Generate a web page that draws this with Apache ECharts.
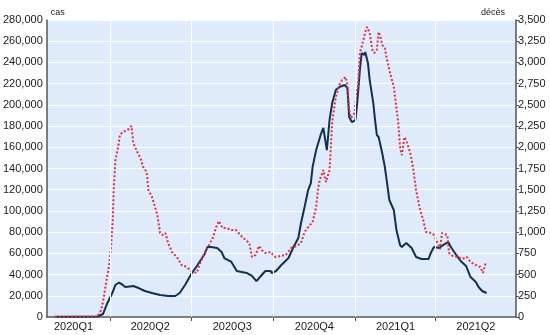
<!DOCTYPE html>
<html>
<head>
<meta charset="utf-8">
<script src="https://cdn.jsdelivr.net/npm/echarts@6/dist/echarts.min.js"></script>
<style>
  html, body { margin: 0; padding: 0; background: #ffffff; }
  #chart { width: 550px; height: 335px; }
</style>
</head>
<body>
<div id="chart"></div>
<script>
// Day index counted from 1 January 2020 (day 0).
const xMin = 20;
const xMax = 546;

// Quarter boundaries (1 Apr 2020, 1 Jul, 1 Oct, 1 Jan 2021, 1 Apr 2021)
const quarterStarts = [91, 182, 274, 366, 456];
// Quarter label positions and texts
const quarterLabelDays = [50, 136, 228, 320, 411, 501];
const quarterLabels = ['2020Q1', '2020Q2', '2020Q3', '2020Q4', '2021Q1', '2021Q2'];

// Left axis ticks (cas) and right axis ticks (décès)
const casTicks = [0, 20000, 40000, 60000, 80000, 100000, 120000, 140000, 160000, 180000, 200000, 220000, 240000, 260000, 280000];
const decesTicks = [0, 250, 500, 750, 1000, 1250, 1500, 1750, 2000, 2250, 2500, 2750, 3000, 3250, 3500];

// Cases, 7-day average
const caseDays = [29, 53, 77, 83, 88, 94, 97, 101, 104, 108, 113, 117, 123, 130, 138, 147, 156, 164, 169, 175,
  182, 189, 197, 200, 204, 211, 216, 219, 227, 233, 244, 250, 255, 261, 265, 271, 272, 277, 283, 291,
  296, 302, 305, 309, 313, 316, 318, 322, 327, 330, 334, 337, 340, 344, 348, 354, 357, 359, 362, 366,
  368, 371, 373, 376, 377, 380, 382, 386, 388, 390, 392, 396, 399, 401, 404, 409, 412, 416, 418, 423,
  429, 434, 440, 448, 451, 454, 460, 466, 470, 473, 479, 484, 490, 495, 501, 504, 508, 513];
const caseValues = [200, 200, 500, 2800, 13200, 23600, 30200, 32500, 31000, 28300, 28800, 29200, 27300, 24500, 22600, 20700, 19800, 19800, 22600, 30200,
  40500, 49000, 59400, 66000, 66000, 65000, 61300, 55600, 51900, 43400, 41500, 38700, 33900, 39600, 43400, 43400, 41500, 43400, 49000, 55600,
  65000, 74500, 88600, 103700, 119700, 126300, 141400, 157400, 171600, 178200, 157400, 185700, 201800, 214000, 216800, 218700, 215900, 188600, 183800, 185700,
  201800, 232900, 248900, 247000, 249800, 239500, 223400, 201800, 185700, 171600, 169700, 154600, 141400, 129200, 110300, 100900, 82000, 67900, 66000, 69800,
  65000, 56600, 54700, 54700, 61300, 66000, 65000, 68800, 70700, 66000, 58500, 52800, 48100, 37700, 33000, 28300, 24500, 22600];

// Deaths, 7-day average
const deathDays = [29, 77, 81, 84, 87, 90, 92, 94, 95, 97, 100, 102, 105, 108, 112, 115, 117, 122, 125, 128,
  132, 134, 138, 139, 144, 147, 150, 153, 156, 161, 166, 171, 177, 182, 188, 191, 197, 202, 206, 210,
  213, 217, 221, 227, 232, 238, 243, 247, 250, 254, 258, 261, 265, 271, 276, 282, 288, 294, 300, 305,
  309, 315, 318, 322, 324, 326, 330, 333, 335, 337, 340, 344, 348, 351, 355, 357, 359, 361, 365, 367,
  369, 371, 375, 377, 379, 381, 382, 385, 387, 390, 392, 394, 396, 399, 401, 404, 409, 412, 414, 416,
  418, 420, 421, 424, 428, 431, 434, 438, 442, 445, 451, 454, 458, 461, 463, 466, 469, 471, 475, 481,
  486, 491, 495, 501, 506, 509, 512];
const deathValues = [0, 5, 82, 236, 436, 613, 825, 1143, 1497, 1850, 2003, 2145, 2180, 2192, 2216, 2251, 2050, 1933, 1874, 1768,
  1709, 1497, 1414, 1379, 1202, 990, 966, 990, 872, 754, 707, 613, 589, 542, 519, 613, 754, 849, 931, 1061,
  1131, 1049, 1049, 1025, 1025, 955, 907, 872, 707, 731, 837, 790, 754, 766, 707, 719, 731, 813, 837, 872,
  1002, 1084, 1120, 1296, 1497, 1615, 1732, 1591, 1579, 1732, 2298, 2593, 2734, 2793, 2828, 2734, 2439, 2345, 2404, 2616,
  2734, 3111, 3264, 3359, 3418, 3406, 3347, 3147, 3111, 3147, 3359, 3300, 3206, 3170, 3052, 2911, 2711, 2463, 2286, 2003,
  1909, 2051, 2121, 2051, 1909, 1732, 1497, 1285, 1143, 1002, 990, 966, 872, 801, 990, 978, 966, 754, 719, 707,
  684, 707, 648, 613, 589, 519, 637];

function zip(xs, ys) { return xs.map((x, i) => [x, ys[i]]); }
function fmt(v) { return v.toLocaleString('en-US'); }

const textColor = '#1a1a1a';
const axisColor = '#555555';
const fontFamily = 'Liberation Sans, Arial, sans-serif';

const chart = echarts.init(document.getElementById('chart'), null, { renderer: 'canvas' });

chart.setOption({
  animation: false,
  grid: {
    left: 40, right: 34, top: 20, bottom: 18,
    show: true,
    backgroundColor: '#dfeafb',
    borderWidth: 0
  },
  xAxis: {
    type: 'value',
    min: xMin,
    max: xMax,
    axisLine: { show: true, onZero: false, lineStyle: { color: axisColor, width: 1.5 } },
    axisTick: {
      show: true, length: 4, inside: false,
      customValues: quarterStarts,
      lineStyle: { color: axisColor, width: 1 }
    },
    axisLabel: {
      show: true,
      customValues: quarterLabelDays,
      formatter: v => quarterLabels[quarterLabelDays.indexOf(v)] || '',
      color: textColor, fontSize: 11, fontFamily: fontFamily, margin: 4
    },
    splitLine: { show: false }
  },
  yAxis: [
    {
      type: 'value',
      min: 0, max: 280000, interval: 20000,
      position: 'left',
      name: 'cas',
      nameLocation: 'end',
      nameGap: 3,
      nameTextStyle: { color: textColor, fontSize: 9, fontFamily: fontFamily, align: 'left', padding: [0, 0, 0, 4] },
      axisLine: { show: true, lineStyle: { color: axisColor, width: 1.5 } },
      axisTick: { show: false },
      axisLabel: {
        color: textColor, fontSize: 11, fontFamily: fontFamily, margin: 4,
        formatter: v => casTicks.indexOf(v) >= 0 ? fmt(v) : ''
      },
      splitLine: { show: true, lineStyle: { color: '#ffffff', width: 1 } }
    },
    {
      type: 'value',
      min: 0, max: 3500, interval: 250,
      position: 'right',
      name: 'décès',
      nameLocation: 'end',
      nameGap: 3,
      nameTextStyle: { color: textColor, fontSize: 9, fontFamily: fontFamily, align: 'right', padding: [0, 11, 0, 0] },
      axisLine: { show: true, lineStyle: { color: axisColor, width: 1.5 } },
      axisTick: { show: true, length: 3, inside: false, lineStyle: { color: axisColor } },
      axisLabel: {
        color: textColor, fontSize: 11, fontFamily: fontFamily, margin: 2,
        formatter: v => decesTicks.indexOf(v) >= 0 ? fmt(v) : ''
      },
      splitLine: { show: false }
    }
  ],
  series: [
    {
      // vertical quarter separators
      type: 'line',
      data: [],
      z: 1,
      silent: true,
      markLine: {
        silent: true,
        symbol: 'none',
        label: { show: false },
        lineStyle: { color: '#ffffff', width: 1, type: 'solid' },
        data: quarterStarts.map(d => ({ xAxis: d }))
      }
    },
    {
      name: 'cas',
      type: 'line',
      yAxisIndex: 0,
      data: zip(caseDays, caseValues),
      showSymbol: false,
      smooth: false,
      z: 3,
      lineStyle: { color: '#12314f', width: 2 }
    },
    {
      name: 'décès',
      type: 'line',
      yAxisIndex: 1,
      data: zip(deathDays, deathValues),
      showSymbol: false,
      smooth: false,
      z: 4,
      lineStyle: { color: '#d8333f', width: 2, type: [2, 2] }
    }
  ]
});
</script>
</body>
</html>
